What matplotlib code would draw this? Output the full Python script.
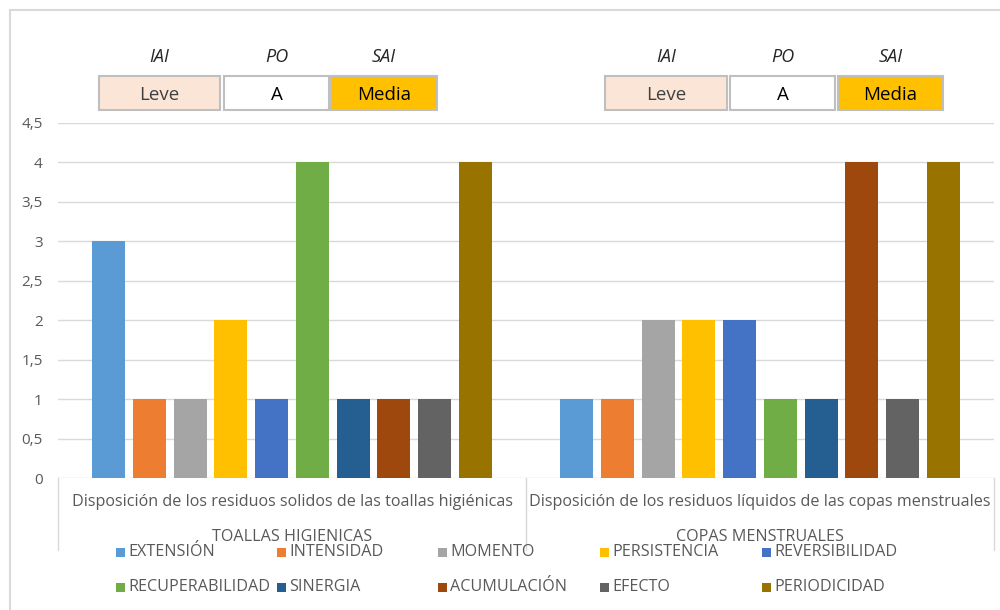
import matplotlib
matplotlib.use("Agg")
import matplotlib.pyplot as plt
from matplotlib.patches import Rectangle
from matplotlib.lines import Line2D
from matplotlib import font_manager

# --- data -------------------------------------------------------------
categories = [
    "Disposición de los residuos solidos de las toallas higiénicas",
    "Disposición de los residuos líquidos de las copas menstruales",
]
groups = ["TOALLAS HIGIENICAS", "COPAS MENSTRUALES"]
series = ["EXTENSIÓN", "INTENSIDAD", "MOMENTO", "PERSISTENCIA", "REVERSIBILIDAD",
          "RECUPERABILIDAD", "SINERGIA", "ACUMULACIÓN", "EFECTO", "PERIODICIDAD"]
colors = ["#5B9BD5", "#ED7D31", "#A5A5A5", "#FFC000", "#4472C4",
          "#70AD47", "#255E91", "#9E480E", "#636363", "#997300"]
values_toallas = [3, 1, 1, 2, 1, 4, 1, 1, 1, 4]
values_copas = [1, 1, 2, 2, 2, 1, 1, 4, 1, 4]
yticks = [0, 0.5, 1, 1.5, 2, 2.5, 3, 3.5, 4, 4.5]

header_titles = ["IAI", "PO", "SAI"]
header_values = ["Leve", "A", "Media"]
header_fills = ["#FBE5D6", "#FFFFFF", "#FFC000"]

# --- fonts ------------------------------------------------------------
available = {f.name for f in font_manager.fontManager.ttflist}
family = [f for f in ["Open Sans", "DejaVu Sans"] if f in available]
plt.rcParams["font.family"] = family

W, H = 1000, 610
fig = plt.figure(figsize=(W / 100, H / 100), dpi=100)
TXT = "#595959"
GRID = "#D9D9D9"


def fx(x):
    return x / W


def fy(y):
    return 1 - y / H


# outer chart frame (left and top edges)
fig.add_artist(Line2D([fx(10), fx(10)], [fy(10), fy(610)], color=GRID, lw=1.5))
fig.add_artist(Line2D([fx(10), fx(1000)], [fy(10), fy(10)], color=GRID, lw=1.5))

ax = fig.add_axes([fx(58), fy(478), (994 - 58) / W, (478 - 123) / H])
ax.set_xlim(-0.5, 1.5)
ax.set_ylim(0, 4.5)
for s in ax.spines.values():
    s.set_visible(False)

ax.set_yticks(yticks)
ax.set_yticklabels([f"{v:g}".replace(".", ",") for v in yticks])
ax.tick_params(axis="y", length=0, pad=11, labelsize=11, labelcolor=TXT)
ax.set_xticks([])
ax.yaxis.grid(True, color=GRID, lw=1)
ax.set_axisbelow(True)

# bars
step = 0.0869
width = 0.0705
data = [values_toallas, values_copas]
for j, (name, col) in enumerate(zip(series, colors)):
    vals = [d[j] for d in data]
    xs = [i + (j - 4.5) * step for i in range(len(categories))]
    ax.bar(xs, vals, width=width, color=col, label=name, zorder=2)

# multi-level category axis
trans = ax.get_xaxis_transform()
for xb in [-0.5, 0.5, 1.5]:
    ax.plot([xb, xb], [0, -72 / 355], color=GRID, lw=1, transform=trans, clip_on=False)
for i, (cat, grp) in enumerate(zip(categories, groups)):
    ax.text(i, -24 / 355, cat, transform=trans, ha="center", va="center",
            fontsize=11.6, color=TXT)
    ax.text(i, -59 / 355, grp, transform=trans, ha="center", va="center",
            fontsize=11.6, color=TXT)

# header boxes above each group
box_sets = [
    [(99, 220), (224, 329), (331, 437)],
    [(605, 727), (730, 835), (838, 943)],
]
for boxes in box_sets:
    for (x0, x1), title, val, fill in zip(boxes, header_titles, header_values, header_fills):
        fig.add_artist(Rectangle((fx(x0), fy(110)), fx(x1 - x0), (110 - 76) / H,
                                 facecolor=fill, edgecolor="#BFBFBF", lw=1.5))
        cx = fx((x0 + x1) / 2)
        fig.text(cx, fy(57), title, ha="center", va="center", fontsize=13,
                 style="italic", color="#262626")
        fig.text(cx, fy(95), val, ha="center", va="center", fontsize=13.5,
                 color="#404040" if val == "Leve" else "#000000")

# legend, two rows of five
leg_x = [120, 281, 442, 604, 766]
leg_y = [552, 587]
for k, (name, col) in enumerate(zip(series, colors)):
    r, c = divmod(k, 5)
    x, y = leg_x[c], leg_y[r]
    fig.add_artist(Rectangle((fx(x - 4), fy(y + 5)), fx(9), 9 / H,
                             facecolor=col, edgecolor="none"))
    fig.text(fx(x + 8), fy(y), name, ha="left", va="center", fontsize=11.6, color=TXT)

fig.savefig("out.png", dpi=100)
